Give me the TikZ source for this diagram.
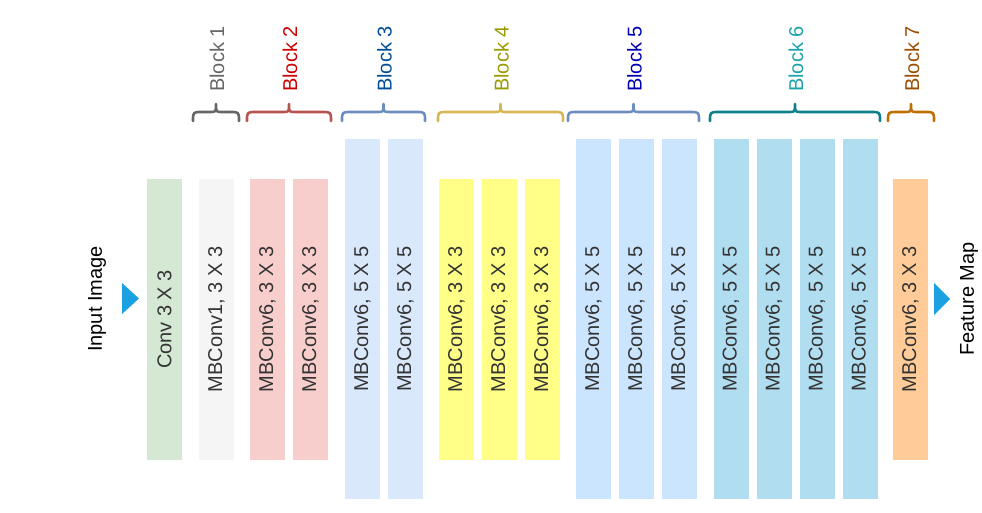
\documentclass[tikz,border=0pt]{standalone}
\usepackage{fontspec}
\setmainfont{Liberation Sans}
\begin{document}
\begin{tikzpicture}[x=1pt,y=-1pt,
  bar/.style={rotate=90,inner sep=0pt,minimum height=35pt,text=black!80,font=\fontsize{20}{22}\selectfont},
  short/.style={bar,minimum width=281pt},
  tall/.style={bar,minimum width=360pt},
  blab/.style={rotate=90,anchor=west,inner sep=0pt,font=\fontsize{20}{22}\selectfont},
  side/.style={rotate=90,inner sep=0pt,text=black,font=\fontsize{20}{22}\selectfont},
  tri/.style={fill=tricol,draw=none},
  br/.style={line width=2.6pt,line cap=round,line join=round}]
\definecolor{cgreen}{HTML}{D5E8D4}
\definecolor{cgray}{HTML}{F5F5F5}
\definecolor{cred}{HTML}{F8CECC}
\definecolor{cblue}{HTML}{DAE8FC}
\definecolor{cyel}{HTML}{FFFF88}
\definecolor{cblue5}{HTML}{CCE5FF}
\definecolor{cblue6}{HTML}{B1DDF0}
\definecolor{corange}{HTML}{FFCC99}
\definecolor{tricol}{HTML}{1BA1E2}
\definecolor{l1}{HTML}{666666}
\definecolor{l2}{HTML}{CC0000}
\definecolor{l3}{HTML}{004C99}
\definecolor{l4}{HTML}{999900}
\definecolor{l5}{HTML}{0000B3}
\definecolor{l6}{HTML}{18A3A8}
\definecolor{l7}{HTML}{994C00}
\definecolor{b1}{HTML}{666666}
\definecolor{b2}{HTML}{B85450}
\definecolor{b3}{HTML}{6C8EBF}
\definecolor{b4}{HTML}{D6B656}
\definecolor{b5}{HTML}{6C8EBF}
\definecolor{b6}{HTML}{0E8088}
\definecolor{b7}{HTML}{BD7000}
\useasboundingbox (0,0) rectangle (982,512);
% bars
\node[short,fill=cgreen] (c0) at (164.5,319.5) {Conv 3 X 3};
\node[short,fill=cgray] (m1) at (216.5,319.5) {MBConv1, 3 X 3};
\node[short,fill=cred] (m2a) at (267.5,319.5) {MBConv6, 3 X 3};
\node[short,fill=cred] (m2b) at (310.5,319.5) {MBConv6, 3 X 3};
\node[tall,fill=cblue] (m3a) at (362.5,319) {MBConv6, 5 X 5};
\node[tall,fill=cblue] (m3b) at (405.5,319) {MBConv6, 5 X 5};
\node[short,fill=cyel] (m4a) at (456.5,319.5) {MBConv6, 3 X 3};
\node[short,fill=cyel] (m4b) at (499.5,319.5) {MBConv6, 3 X 3};
\node[short,fill=cyel] (m4c) at (542.5,319.5) {MBConv6, 3 X 3};
\node[tall,fill=cblue5] (m5a) at (593.5,319) {MBConv6, 5 X 5};
\node[tall,fill=cblue5] (m5b) at (636.5,319) {MBConv6, 5 X 5};
\node[tall,fill=cblue5] (m5c) at (679.5,319) {MBConv6, 5 X 5};
\node[tall,fill=cblue6] (m6a) at (731,319) {MBConv6, 5 X 5};
\node[tall,fill=cblue6] (m6b) at (774,319) {MBConv6, 5 X 5};
\node[tall,fill=cblue6] (m6c) at (817,319) {MBConv6, 5 X 5};
\node[tall,fill=cblue6] (m6d) at (860,319) {MBConv6, 5 X 5};
\node[short,fill=corange] (m7) at (910.5,319.5) {MBConv6, 3 X 3};
% side labels and triangles
\node[side] (inp) at (97,299) {Input Image};
\node[side] (out) at (969,299) {Feature Map};
\fill[tri] (122,283) -- (122,314) -- (139,298.5) -- cycle;
\fill[tri] (934,283) -- (934,315) -- (950,299) -- cycle;
% braces
\foreach \xa/\xb/\col/\lab/\lcol [count=\i] in {193/239/b1/Block 1/l1, 247/331/b2/Block 2/l2, 342/425/b3/Block 3/l3, 438/563/b4/Block 4/l4, 568/699/b5/Block 5/l5, 710/880/b6/Block 6/l6, 888/934/b7/Block 7/l7}{
  \pgfmathsetmacro\xm{(\xa+\xb)/2}
  \draw[br,draw=\col] (\xa,121) .. controls (\xa,112) .. (\xa+9,112) -- (\xm-6,112) .. controls (\xm,112) .. (\xm,104) .. controls (\xm,112) .. (\xm+6,112) -- (\xb-9,112) .. controls (\xb,112) .. (\xb,121);
  \node[blab,text=\lcol] (lab\i) at (\xm+1,92) {\lab};
}
\end{tikzpicture}
\end{document}
